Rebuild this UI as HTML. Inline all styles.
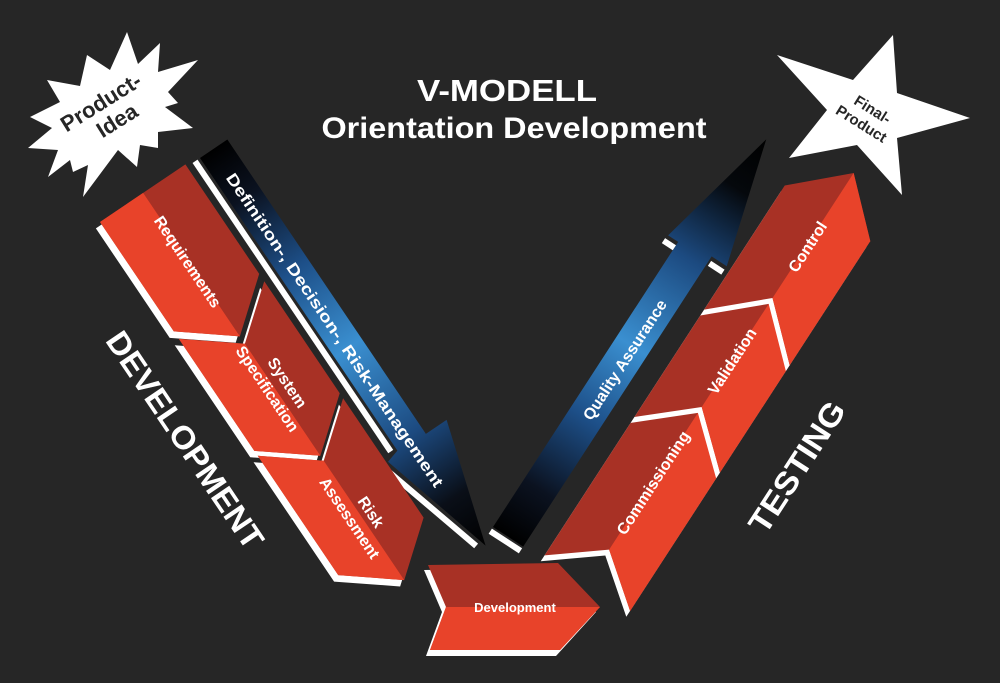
<!DOCTYPE html>
<html><head><meta charset="utf-8"><style>
html,body{margin:0;padding:0;background:#262626;}
svg{display:block;font-family:"Liberation Sans",Arial,sans-serif;font-weight:bold;}
</style></head><body>
<svg width="1000" height="683" viewBox="0 0 1000 683" xmlns="http://www.w3.org/2000/svg">
<defs>
<linearGradient id="gl" x1="0" y1="0" x2="481" y2="0" gradientUnits="userSpaceOnUse">
<stop offset="0" stop-color="#000"/><stop offset="0.12" stop-color="#0b1220"/><stop offset="0.3" stop-color="#1d4f88"/><stop offset="0.5" stop-color="#3a8fd0"/><stop offset="0.72" stop-color="#1c4a80"/><stop offset="0.88" stop-color="#0a0f18"/><stop offset="1" stop-color="#000"/>
</linearGradient>
<linearGradient id="gr" x1="0" y1="0" x2="474" y2="0" gradientUnits="userSpaceOnUse">
<stop offset="0" stop-color="#000"/><stop offset="0.12" stop-color="#0b1220"/><stop offset="0.3" stop-color="#1d4f88"/><stop offset="0.48" stop-color="#3a8fd0"/><stop offset="0.7" stop-color="#1c4a80"/><stop offset="0.88" stop-color="#05080c"/><stop offset="1" stop-color="#000"/>
</linearGradient>
</defs>
<rect width="1000" height="683" fill="#262626"/>

<text x="507" y="101" fill="#fff" font-size="31" text-anchor="middle" textLength="180" lengthAdjust="spacingAndGlyphs">V-MODELL</text>
<text x="514" y="138" fill="#fff" font-size="30" text-anchor="middle" textLength="385" lengthAdjust="spacingAndGlyphs">Orientation Development</text>

<polygon fill="#fff" points="127,32 138,64 160,43 158,72 198,60 168,92 178,103 165,107 193,128 158,132 158,148 140,145 137,167 118,150 83,197 88,165 73,172 70,160 48,177 58,150 28,148 52,128 30,117 60,102 47,80 80,86 87,55 110,70"/>
<g transform="translate(107,112) rotate(-32)" fill="#262626" font-size="22" text-anchor="middle">
<text x="0" y="-4">Product-</text><text x="4" y="20">Idea</text>
</g>

<polygon fill="#fff" points="777,55 853,80 893,35 897,93 970,118 897,138 902,195 857,145 789,158 827,110"/>
<g transform="translate(865,118) rotate(32)" fill="#262626" font-size="15" text-anchor="middle">
<text x="2" y="-6">Final-</text><text x="0" y="12">Product</text>
</g>

<g transform="translate(200,158) rotate(56)">
<polyline points="0,6 350,6" stroke="#fff" stroke-width="6" fill="none"/>
<polyline points="362,20 476,-12" stroke="#fff" stroke-width="6" fill="none"/>
<polygon fill="url(#gl)" points="0,0 0,-33 355,-33 355,-58 481,-20 357,14 353,0"/>
<text x="218" y="-10" fill="#fff" font-size="16" text-anchor="middle" textLength="375" lengthAdjust="spacingAndGlyphs">Definition-, Decision-, Risk-Management</text>
</g>

<g transform="translate(100,222) rotate(56)">
<polygon fill="#fff" transform="translate(3,7)" points="0,0 0,-103 132,-103 173,-52 132,0"/>
<polygon fill="#a83125" points="0,0 0,-103 132,-103 173,-52 132,0"/>
<polygon fill="#e8432a" points="0,0 0,-52 173,-52 132,0"/>
<polygon fill="#fff" transform="translate(3,7)" points="141,0 182,-52 141,-103 276,-103 317,-52 276,0"/>
<polygon fill="#a83125" points="141,0 182,-52 141,-103 276,-103 317,-52 276,0"/>
<polygon fill="#e8432a" points="141,0 182,-52 317,-52 276,0"/>
<polygon fill="#fff" transform="translate(3,7)" points="282,0 323,-52 282,-103 426,-103 467,-52 426,0"/>
<polygon fill="#a83125" points="282,0 323,-52 282,-103 426,-103 467,-52 426,0"/>
<polygon fill="#e8432a" points="282,0 323,-52 467,-52 426,0"/>
<g fill="#fff" font-size="16" text-anchor="middle">
<text x="82" y="-45">Requirements</text>
<text x="238" y="-60">System</text>
<text x="232" y="-40">Specification</text>
<text x="392" y="-57">Risk</text>
<text x="385" y="-36">Assessment</text>
</g>
</g>
<text transform="translate(185,440) rotate(56)" fill="#fff" font-size="32" text-anchor="middle" dominant-baseline="central" textLength="255" lengthAdjust="spacingAndGlyphs">DEVELOPMENT</text>

<polygon fill="#fff" points="424,570 554,568 596,612 556,656 426,656 442,612"/>
<polygon fill="#a83125" points="428,565 558,563 600,607 560,650 430,650 446,607"/>
<polygon fill="#e8432a" points="446,607 600,607 560,650 430,650"/>
<text x="515" y="612" fill="#fff" font-size="13" text-anchor="middle">Development</text>

<g transform="translate(493,527) rotate(-57)">
<polygon fill="url(#gr)" points="0,0 340,0 340,-12 474,18 346,54 346,36 0,36"/>
<rect x="-8" y="0" width="6" height="36" fill="#fff"/>
<rect x="330" y="-13" width="6" height="13" fill="#fff"/>
<rect x="336" y="38" width="6" height="16" fill="#fff"/>
<text x="212" y="25" fill="#fff" font-size="16" text-anchor="middle">Quality Assurance</text>
</g>

<g transform="translate(550,547) rotate(-57)">
<polygon fill="#fff" transform="translate(-7,0)" points="-10,0 155,0 200,51 155,102 -10,102 30,51"/>
<polygon fill="#a83125" points="-10,0 155,0 200,51 155,102 -10,102 30,51"/>
<polygon fill="#e8432a" points="30,51 200,51 155,102 -10,102"/>
<polygon fill="#fff" transform="translate(-7,0)" points="155,0 283,0 330,51 283,102 155,102 200,51"/>
<polygon fill="#a83125" points="155,0 283,0 330,51 283,102 155,102 200,51"/>
<polygon fill="#e8432a" points="200,51 330,51 283,102 155,102"/>
<polygon fill="#fff" transform="translate(-7,0)" points="283,0 431,0 479,51 431,102 283,102 330,51"/>
<polygon fill="#a83125" points="283,0 431,0 479,51 431,102 283,102 330,51"/>
<polygon fill="#e8432a" points="330,51 479,51 431,102 283,102"/>
<g fill="#fff" font-size="16" text-anchor="middle">
<text x="110" y="57">Commissioning</text>
<text x="255" y="57">Validation</text>
<text x="392" y="58">Control</text>
</g>
</g>
<text transform="translate(797,467) rotate(-57)" fill="#fff" font-size="32" text-anchor="middle" dominant-baseline="central" textLength="150" lengthAdjust="spacingAndGlyphs">TESTING</text>
</svg>
</body></html>
